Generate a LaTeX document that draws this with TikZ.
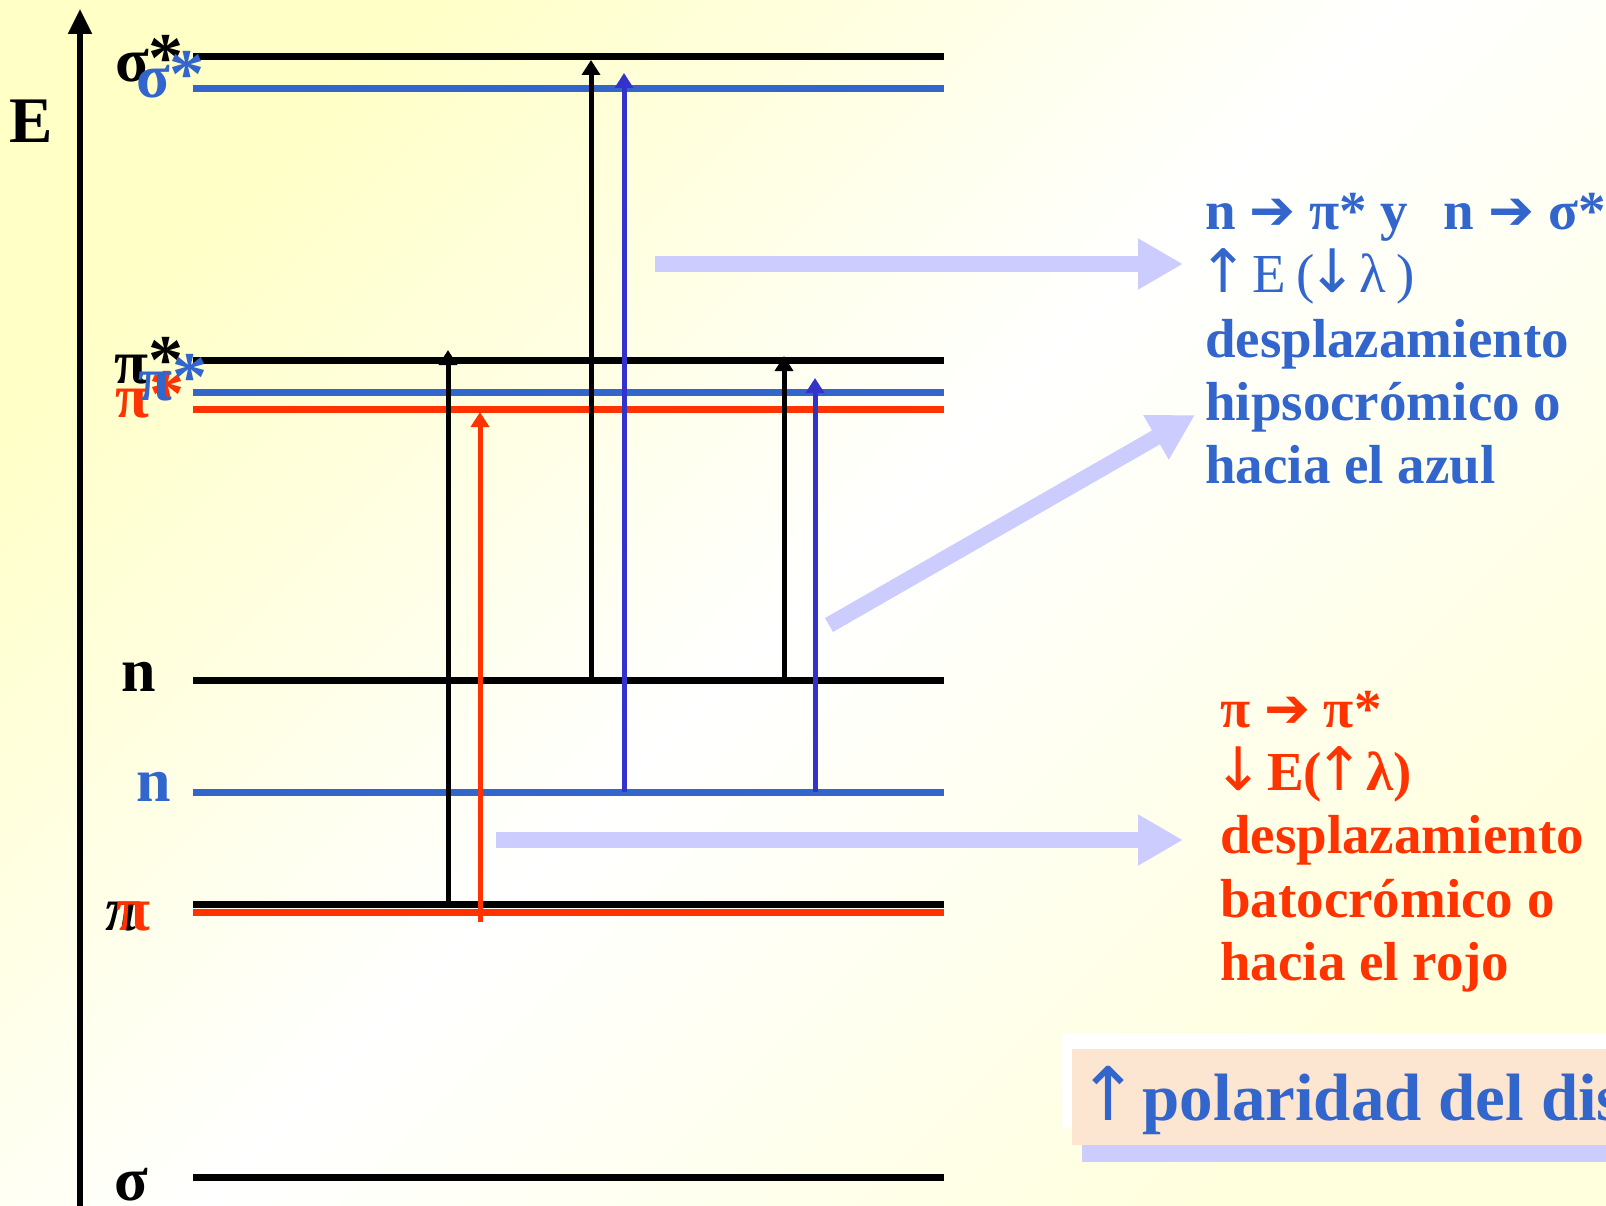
\documentclass[tikz,border=0pt]{standalone}
\usepackage{fontspec}
\setmainfont{Liberation Serif}
\newfontfamily\dejavu{DejaVu Sans}
\usetikzlibrary{arrows.meta}
\definecolor{lvblue}{HTML}{3366CC}
\definecolor{lvred}{HTML}{FF3300}
\definecolor{trblue}{HTML}{3333CC}
\definecolor{lav}{HTML}{CCCCFF}
\definecolor{peach}{HTML}{FDE6D1}
\definecolor{bgya}{RGB}{255,255,198}
\definecolor{bgyb}{RGB}{255,255,222}
\newcommand{\harr}{{\dejavu\bfseries ➔}}
\newcommand{\uarr}{{\dejavu\mdseries\fontsize{60}{60}\selectfont\kern-0.12em ↑\kern-0.12em}}
\newcommand{\darr}{{\dejavu\mdseries\fontsize{60}{60}\selectfont\kern-0.12em ↓\kern-0.12em}}
\newcommand{\lstar}{{\fontsize{70}{70}\selectfont *}}
\begin{document}
\begin{tikzpicture}[x=1pt,y=-1pt,
  level/.style={line width=7pt},
  trans/.style={line width=5pt,-{Triangle[length=15pt,width=18pt]}},
  bigarrow/.style={lav,line width=16pt,-{Triangle[length=45pt,width=48pt]}},
  lab/.style={inner sep=0pt,anchor=base west,font=\fontsize{62}{62}\selectfont\bfseries},
  txt/.style={inner sep=0pt,anchor=base west,font=\fontsize{55}{55}\selectfont\bfseries},
]
\useasboundingbox (0,0) rectangle (1606,1206);
\clip (0,0) rectangle (1606,1206);
\shade[top color=bgya, bottom color=bgyb, middle color=white, shading angle=45] (-10,-10) rectangle (1616,1216);

% energy axis
\coordinate (axb) at (80,1215);
\coordinate (axt) at (80,9);
\draw[line width=5.5pt,-{Triangle[length=25pt,width=23pt]}] (axb) -- (axt);
\node[lab,font=\fontsize{65}{65}\selectfont\bfseries] (E) at (9,143) {E};

% levels
\draw[level,black]  (193,57)  -- (944,57);
\draw[level,lvblue] (193,89)  -- (944,89);
\draw[level,black]  (193,360) -- (944,360);
\draw[level,lvblue] (193,392) -- (944,392);
\draw[level,lvred]  (193,409) -- (944,409);
\draw[level,black]  (193,680) -- (944,680);
\draw[level,lvblue] (193,792) -- (944,792);
\draw[level,black]  (193,904) -- (944,904);
\draw[level,lvred]  (193,912) -- (944,912);
\draw[level,black]  (193,1177) -- (944,1177);

% level labels
\node[lab,text=black]  (ssk) at (115,82)  {σ\lstar};
\node[lab,text=lvblue] (ssb) at (136,98)  {σ\lstar};
\node[lab,text=black]  (ppk) at (114,383) {π\lstar};
\node[lab,text=lvred]  (ppr) at (115,417) {π\lstar};
\node[lab,text=lvblue] (ppb) at (138,400) {π\lstar};
\node[lab,text=black]  (nk)  at (121,691) {n};
\node[lab,text=lvblue] (nb)  at (136,801) {n};
\node[lab,text=black,font=\fontsize{62}{62}\selectfont\bfseries\itshape] (pk) at (105,930) {π};
\node[lab,text=lvred]  (pr)  at (116,930) {π};
\node[lab,text=black]  (sg)  at (114,1200) {σ};

% transitions
\coordinate (t1a) at (448,904); \coordinate (t1b) at (448,350);
\coordinate (t2a) at (480,922); \coordinate (t2b) at (480,412);
\coordinate (t3a) at (591,680); \coordinate (t3b) at (591,60);
\coordinate (t4a) at (624,792); \coordinate (t4b) at (624,73);
\coordinate (t5a) at (784,680); \coordinate (t5b) at (784,356);
\coordinate (t6a) at (815,792); \coordinate (t6b) at (815,378);
\draw[trans,black]  (t1a) -- (t1b);
\draw[trans,lvred]  (t2a) -- (t2b);
\draw[trans,black]  (t3a) -- (t3b);
\draw[trans,trblue] (t4a) -- (t4b);
\draw[trans,black]  (t5a) -- (t5b);
\draw[trans,trblue] (t6a) -- (t6b);

% big lavender arrows
\coordinate (b1a) at (655,264); \coordinate (b1b) at (1183,264);
\coordinate (b2a) at (829,625); \coordinate (b2b) at (1195,415);
\coordinate (b3a) at (496,840); \coordinate (b3b) at (1183,840);
\draw[bigarrow] (b1a) -- (b1b);
\draw[bigarrow] (b2a) -- (b2b);
\draw[bigarrow] (b3a) -- (b3b);

% blue text
\node[txt,text=lvblue] (bl1) at (1205,230) {n \harr{} π* y\hspace{0.4em} n \harr{} σ*};
\node[txt,text=lvblue,font=\fontsize{55}{55}\selectfont] (bl2) at (1205,293) {\uarr\hspace{0.2em}E\hspace{0.2em}(\darr\hspace{0.15em}λ\hspace{0.2em})};
\node[txt,text=lvblue] (bl3) at (1205,357) {desplazamiento};
\node[txt,text=lvblue] (bl4) at (1205,420) {hipsocrómico o};
\node[txt,text=lvblue] (bl5) at (1205,483) {hacia el azul};

% red text
\node[txt,text=lvred] (rd1) at (1220,727) {π \harr{} π*};
\node[txt,text=lvred] (rd2) at (1220,790) {\darr\hspace{0.2em}E(\uarr\hspace{0.15em}λ)};
\node[txt,text=lvred] (rd3) at (1220,853) {desplazamiento};
\node[txt,text=lvred] (rd4) at (1220,917) {batocrómico o};
\node[txt,text=lvred] (rd5) at (1220,980) {hacia el rojo};

% bottom box
\fill[white] (1062,1033) rectangle (1620,1128);
\fill[lav]   (1082,1066) rectangle (1620,1162);
\fill[peach] (1072,1049) rectangle (1620,1145);
\node[txt,text=lvblue,font=\fontsize{67}{67}\selectfont\bfseries] (pol) at (1086,1120) {{\dejavu\mdseries\fontsize{74}{74}\selectfont\kern-0.12em ↑}\hspace{0.05em}polaridad del dis};
\end{tikzpicture}
\end{document}
